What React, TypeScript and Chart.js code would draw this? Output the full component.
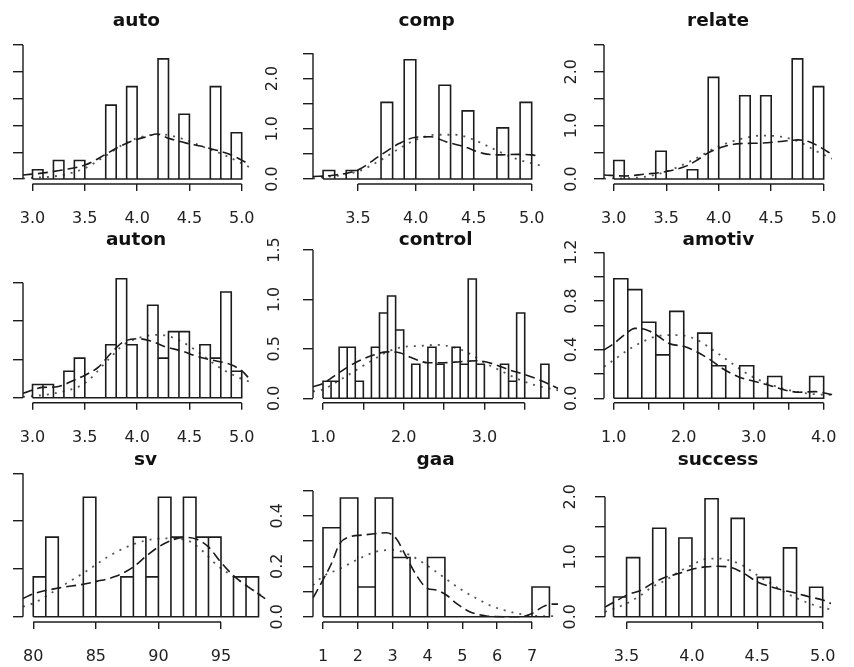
import React, { useEffect, useRef } from 'react';
import { Chart, registerables } from 'chart.js';

Chart.register(...registerables);

type Pt = [number, number];

// ---------------- data ----------------
// auto
const autoBreaks = [3.0, 3.1, 3.2, 3.3, 3.4, 3.5, 3.6, 3.7, 3.8, 3.9, 4.0, 4.1, 4.2, 4.3, 4.4, 4.5, 4.6, 4.7, 4.8, 4.9, 5.0];
const autoDensity = [0.172, 0, 0.345, 0, 0.345, 0, 0, 1.379, 0, 1.724, 0, 0, 2.241, 0, 1.207, 0, 0, 1.724, 0, 0.862];
const autoKde: Pt[] = [[2.909, 0.075], [3.09, 0.11], [3.29, 0.17], [3.5, 0.26], [3.69, 0.45], [3.8, 0.575], [3.94, 0.7], [4.09, 0.79], [4.19, 0.84], [4.3, 0.76], [4.47, 0.67], [4.62, 0.61], [4.77, 0.53], [4.9, 0.45], [5.077, 0.27]];
const autoNorm: Pt[] = [[2.909, 0.01], [3.29, 0.075], [3.5, 0.2], [3.69, 0.42], [3.89, 0.67], [4.09, 0.81], [4.24, 0.83], [4.42, 0.76], [4.62, 0.61], [4.83, 0.45], [5.077, 0.22]];

// comp
const compBreaks = [3.2, 3.3, 3.4, 3.5, 3.6, 3.7, 3.8, 3.9, 4.0, 4.1, 4.2, 4.3, 4.4, 4.5, 4.6, 4.7, 4.8, 4.9, 5.0];
const compDensity = [0.169, 0, 0.169, 0, 0, 1.525, 0, 2.373, 0, 0, 1.864, 0, 1.356, 0, 0, 1.017, 0, 1.525];
const compKde: Pt[] = [[3.113, 0.05], [3.27, 0.07], [3.5, 0.18], [3.7, 0.48], [3.86, 0.71], [4.0, 0.83], [4.13, 0.84], [4.26, 0.74], [4.42, 0.64], [4.58, 0.51], [4.71, 0.48], [4.87, 0.49], [5.0, 0.48], [5.074, 0.44]];
const compNorm: Pt[] = [[3.113, 0.01], [3.5, 0.15], [3.7, 0.38], [3.86, 0.61], [4.0, 0.78], [4.18, 0.88], [4.34, 0.88], [4.5, 0.78], [4.66, 0.61], [4.82, 0.44], [5.0, 0.31], [5.074, 0.27]];

// relate
const relateBreaks = [3.0, 3.1, 3.2, 3.3, 3.4, 3.5, 3.6, 3.7, 3.8, 3.9, 4.0, 4.1, 4.2, 4.3, 4.4, 4.5, 4.6, 4.7, 4.8, 4.9, 5.0];
const relateDensity = [0.345, 0, 0, 0, 0.517, 0, 0, 0.172, 0, 1.897, 0, 0, 1.552, 0, 1.552, 0, 0, 2.241, 0, 1.724];
const relateKde: Pt[] = [[2.907, 0.075], [3.11, 0.056], [3.29, 0.09], [3.5, 0.14], [3.7, 0.25], [3.8, 0.36], [3.91, 0.5], [4.06, 0.61], [4.2, 0.66], [4.41, 0.67], [4.59, 0.7], [4.76, 0.73], [4.88, 0.68], [5.08, 0.46]];
const relateNorm: Pt[] = [[2.907, 0.006], [3.29, 0.04], [3.5, 0.14], [3.76, 0.36], [4.0, 0.61], [4.24, 0.76], [4.41, 0.81], [4.59, 0.79], [4.76, 0.7], [4.94, 0.51], [5.08, 0.38]];

// auton
const autonBreaks = [3.0, 3.1, 3.2, 3.3, 3.4, 3.5, 3.6, 3.7, 3.8, 3.9, 4.0, 4.1, 4.2, 4.3, 4.4, 4.5, 4.6, 4.7, 4.8, 4.9, 5.0];
const autonDensity = [0.172, 0.172, 0, 0.345, 0.517, 0, 0, 0.69, 1.552, 0.69, 0, 1.207, 0.517, 0.862, 0.862, 0, 0.69, 0.517, 1.379, 0.345];
const autonKde: Pt[] = [[2.909, 0.057], [3.1, 0.135], [3.22, 0.14], [3.4, 0.23], [3.51, 0.3], [3.63, 0.4], [3.75, 0.58], [3.87, 0.73], [4.01, 0.77], [4.13, 0.74], [4.28, 0.66], [4.43, 0.61], [4.57, 0.54], [4.72, 0.49], [4.9, 0.43], [5.01, 0.34], [5.071, 0.25]];
const autonNorm: Pt[] = [[2.909, 0.01], [3.22, 0.06], [3.5, 0.19], [3.72, 0.49], [3.87, 0.69], [4.07, 0.8], [4.22, 0.82], [4.4, 0.75], [4.6, 0.58], [4.78, 0.4], [4.96, 0.27], [5.071, 0.21]];

// control
const controlBreaks = [1.0, 1.1, 1.2, 1.3, 1.4, 1.5, 1.6, 1.7, 1.8, 1.9, 2.0, 2.1, 2.2, 2.3, 2.4, 2.5, 2.6, 2.7, 2.8, 2.9, 3.0, 3.1, 3.2, 3.3, 3.4, 3.5, 3.6, 3.7, 3.8];
const controlDensity = [0.172, 0.172, 0.517, 0.517, 0.172, 0, 0.517, 0.862, 1.034, 0.69, 0, 0.345, 0, 0.517, 0.345, 0, 0.517, 0.345, 1.207, 0.345, 0, 0, 0.345, 0.172, 0.862, 0, 0, 0.345];
const controlKde: Pt[] = [[0.876, 0.117], [1.0, 0.15], [1.2, 0.26], [1.4, 0.36], [1.6, 0.43], [1.8, 0.47], [1.95, 0.46], [2.1, 0.41], [2.3, 0.36], [2.5, 0.36], [2.7, 0.37], [2.9, 0.38], [3.1, 0.35], [3.3, 0.29], [3.5, 0.24], [3.7, 0.18], [3.915, 0.1]];
const controlNorm: Pt[] = [[0.876, 0.07], [1.0, 0.09], [1.2, 0.18], [1.4, 0.28], [1.6, 0.38], [1.8, 0.47], [2.0, 0.52], [2.2, 0.53], [2.4, 0.54], [2.6, 0.52], [2.8, 0.46], [3.0, 0.36], [3.2, 0.28], [3.4, 0.2], [3.6, 0.14], [3.915, 0.08]];

// amotiv
const amotivBreaks = [1.0, 1.2, 1.4, 1.6, 1.8, 2.0, 2.2, 2.4, 2.6, 2.8, 3.0, 3.2, 3.4, 3.6, 3.8, 4.0];
const amotivDensity = [0.982, 0.893, 0.625, 0.357, 0.714, 0, 0.536, 0.268, 0, 0.268, 0, 0.179, 0, 0, 0.179];
const amotivKde: Pt[] = [[0.86, 0.397], [1.0, 0.45], [1.17, 0.53], [1.3, 0.575], [1.48, 0.56], [1.61, 0.52], [1.79, 0.45], [2.01, 0.425], [2.19, 0.38], [2.37, 0.32], [2.54, 0.25], [2.77, 0.18], [3.0, 0.14], [3.21, 0.11], [3.43, 0.07], [3.65, 0.05], [3.88, 0.055], [4.129, 0.03]];
const amotivNorm: Pt[] = [[0.86, 0.26], [1.0, 0.315], [1.21, 0.4], [1.43, 0.47], [1.66, 0.515], [1.92, 0.52], [2.19, 0.48], [2.41, 0.4], [2.68, 0.29], [2.94, 0.19], [3.21, 0.12], [3.48, 0.07], [3.83, 0.036], [4.129, 0.027]];

// sv
const svBreaks = [80, 81, 82, 83, 84, 85, 86, 87, 88, 89, 90, 91, 92, 93, 94, 95, 96, 97, 98];
const svDensity = [0.0417, 0.0833, 0, 0, 0.125, 0, 0, 0.0417, 0.0833, 0.0417, 0.125, 0.0833, 0.125, 0.0833, 0.0833, 0, 0.0417, 0.0417];
const svKde: Pt[] = [[79.18, 0.019], [80, 0.024], [82, 0.03], [84, 0.034], [85.07, 0.037], [86.53, 0.042], [88, 0.052], [89.07, 0.064], [90.13, 0.074], [91.07, 0.08], [92, 0.083], [93.07, 0.081], [94, 0.073], [94.93, 0.058], [96, 0.043], [97.2, 0.031], [98.53, 0.019]];
const svNorm: Pt[] = [[79.18, 0.0105], [80, 0.014], [82.67, 0.035], [84.4, 0.049], [85.87, 0.062], [87.47, 0.073], [89.07, 0.08], [90.67, 0.082], [92.27, 0.08], [93.6, 0.068], [94.67, 0.054], [96, 0.042], [97.2, 0.031], [98.4, 0.021]];

// gaa
const gaaBreaks = [1, 1.5, 2, 2.5, 3, 3.5, 4, 4.5, 5, 5.5, 6, 6.5, 7, 7.5];
const gaaDensity = [0.353, 0.471, 0.118, 0.471, 0.235, 0, 0.235, 0, 0, 0, 0, 0, 0.118];
const gaaKde: Pt[] = [[0.713, 0.075], [0.76, 0.086], [1.0, 0.146], [1.24, 0.21], [1.48, 0.29], [1.77, 0.317], [2.15, 0.324], [2.53, 0.33], [2.82, 0.333], [3.1, 0.31], [3.39, 0.238], [3.68, 0.165], [4.0, 0.112], [4.25, 0.106], [4.54, 0.086], [4.83, 0.053], [5.21, 0.02], [5.69, 0.003], [6.26, 0], [6.65, 0], [7.0, 0.013], [7.32, 0.04], [7.6, 0.05], [7.752, 0.05]];
const gaaNorm: Pt[] = [[0.713, 0.125], [1.0, 0.16], [1.48, 0.19], [1.96, 0.225], [2.53, 0.258], [3.0, 0.265], [3.49, 0.245], [3.97, 0.205], [4.44, 0.159], [4.92, 0.112], [5.4, 0.073], [5.88, 0.04], [6.36, 0.02], [6.84, 0.007], [7.32, 0.002], [7.752, 0.003]];

// success
const successBreaks = [3.4, 3.5, 3.6, 3.7, 3.8, 3.9, 4.0, 4.1, 4.2, 4.3, 4.4, 4.5, 4.6, 4.7, 4.8, 4.9, 5.0];
const successDensity = [0.328, 0.984, 0, 1.475, 0, 1.311, 0, 1.967, 0, 1.639, 0, 0.656, 0, 1.148, 0, 0.492];
const successKde: Pt[] = [[3.335, 0.16], [3.41, 0.25], [3.5, 0.36], [3.61, 0.44], [3.7, 0.56], [3.8, 0.66], [3.9, 0.72], [4.0, 0.79], [4.1, 0.83], [4.2, 0.84], [4.3, 0.82], [4.4, 0.72], [4.5, 0.58], [4.6, 0.5], [4.7, 0.44], [4.8, 0.39], [4.9, 0.33], [5.0, 0.28], [5.064, 0.22]];
const successNorm: Pt[] = [[3.335, 0.08], [3.41, 0.14], [3.5, 0.22], [3.61, 0.36], [3.7, 0.5], [3.8, 0.61], [3.9, 0.75], [4.0, 0.86], [4.1, 0.96], [4.2, 0.97], [4.3, 0.93], [4.4, 0.84], [4.5, 0.69], [4.6, 0.56], [4.7, 0.42], [4.8, 0.31], [4.9, 0.22], [5.0, 0.15], [5.064, 0.12]];

// tick values
const ticksX_3to5 = [3.0, 3.5, 4.0, 4.5, 5.0];
const ticksX_comp = [3.5, 4.0, 4.5, 5.0];
const ticksX_control = [1.0, 1.5, 2.0, 2.5, 3.0, 3.5];
const labelsX_control = [1.0, 2.0, 3.0];
const ticksX_amotiv = [1.0, 1.5, 2.0, 2.5, 3.0, 3.5, 4.0];
const labelsX_amotiv = [1.0, 2.0, 3.0, 4.0];
const ticksX_sv = [80, 85, 90, 95];
const ticksX_gaa = [1, 2, 3, 4, 5, 6, 7];
const ticksY_25 = [0, 0.5, 1.0, 1.5, 2.0, 2.5];
const labelsY_25 = [0, 1.0, 2.0];
const ticksY_15 = [0, 0.5, 1.0, 1.5];
const ticksY_amotiv = [0, 0.2, 0.4, 0.6, 0.8, 1.0, 1.2];
const labelsY_amotiv = [0, 0.4, 0.8, 1.2];
const ticksY_sv = [0, 0.05, 0.1, 0.15];
const ticksY_gaa = [0, 0.1, 0.2, 0.3, 0.4, 0.5];
const labelsY_gaa = [0, 0.2, 0.4];
const ticksY_success = [0, 0.5, 1.0, 1.5, 2.0];
const labelsY_success = [0, 1.0, 2.0];

// ---------------- layout / style ----------------
const INK = '#1c1c1c';
const FONT = "'DejaVu Sans', 'Liberation Sans', sans-serif";

interface Spec {
  title: string;
  breaks: number[];
  density: number[];
  kde: Pt[];
  norm: Pt[];
  xTicks: number[];
  xLabels: number[];
  yTicks: number[];
  yLabels: number[];
  xDigits: number;
  yDigits: number;
  box: [number, number, number, number]; // L, T, R, B page px of plot region
  xRange: [number, number];
  yRange: [number, number];
  canvasTop: number;
  titleY: number;
  yLabelOffset: number;
}

const ROW_T = [42, 248, 470];
const ROW_B = [184, 402.7, 622];
const ROW_CANVAS_TOP = [0, 222, 445];
const ROW_TITLE_Y = [21, 240, 460];

const specs: Spec[] = [
  { title: 'auto', breaks: autoBreaks, density: autoDensity, kde: autoKde, norm: autoNorm, xTicks: ticksX_3to5, xLabels: ticksX_3to5, yTicks: ticksY_25, yLabels: labelsY_25, xDigits: 1, yDigits: 1,
    box: [23, ROW_T[0], 268, ROW_B[0]], xRange: [2.909, 5.077], yRange: [-0.093, 2.556], canvasTop: ROW_CANVAS_TOP[0], titleY: ROW_TITLE_Y[0], yLabelOffset: 36 },
  { title: 'comp', breaks: compBreaks, density: compDensity, kde: compKde, norm: compNorm, xTicks: ticksX_comp, xLabels: ticksX_comp, yTicks: ticksY_25, yLabels: labelsY_25, xDigits: 1, yDigits: 1,
    box: [313.3, ROW_T[0], 558.5, ROW_B[0]], xRange: [3.113, 5.074], yRange: [-0.0994, 2.725], canvasTop: ROW_CANVAS_TOP[0], titleY: ROW_TITLE_Y[0], yLabelOffset: 40 },
  { title: 'relate', breaks: relateBreaks, density: relateDensity, kde: relateKde, norm: relateNorm, xTicks: ticksX_3to5, xLabels: ticksX_3to5, yTicks: ticksY_25, yLabels: labelsY_25, xDigits: 1, yDigits: 1,
    box: [603.5, ROW_T[0], 849, ROW_B[0]], xRange: [2.907, 5.08], yRange: [-0.093, 2.556], canvasTop: ROW_CANVAS_TOP[0], titleY: ROW_TITLE_Y[0], yLabelOffset: 32 },
  { title: 'auton', breaks: autonBreaks, density: autonDensity, kde: autonKde, norm: autonNorm, xTicks: ticksX_3to5, xLabels: ticksX_3to5, yTicks: ticksY_15, yLabels: ticksY_15, xDigits: 1, yDigits: 1,
    box: [23, ROW_T[1], 268, ROW_B[1]], xRange: [2.909, 5.071], yRange: [-0.065, 1.953], canvasTop: ROW_CANVAS_TOP[1], titleY: ROW_TITLE_Y[1], yLabelOffset: 36 },
  { title: 'control', breaks: controlBreaks, density: controlDensity, kde: controlKde, norm: controlNorm, xTicks: ticksX_control, xLabels: labelsX_control, yTicks: ticksY_15, yLabels: ticksY_15, xDigits: 1, yDigits: 1,
    box: [313.3, ROW_T[1], 558.5, ROW_B[1]], xRange: [0.876, 3.915], yRange: [-0.0445, 1.52], canvasTop: ROW_CANVAS_TOP[1], titleY: ROW_TITLE_Y[1], yLabelOffset: 38 },
  { title: 'amotiv', breaks: amotivBreaks, density: amotivDensity, kde: amotivKde, norm: amotivNorm, xTicks: ticksX_amotiv, xLabels: labelsX_amotiv, yTicks: ticksY_amotiv, yLabels: labelsY_amotiv, xDigits: 1, yDigits: 1,
    box: [603.5, ROW_T[1], 849, ROW_B[1]], xRange: [0.86, 4.129], yRange: [-0.036, 1.235], canvasTop: ROW_CANVAS_TOP[1], titleY: ROW_TITLE_Y[1], yLabelOffset: 32 },
  { title: 'sv', breaks: svBreaks, density: svDensity, kde: svKde, norm: svNorm, xTicks: ticksX_sv, xLabels: ticksX_sv, yTicks: ticksY_sv, yLabels: ticksY_sv, xDigits: 0, yDigits: 2,
    box: [23, ROW_T[2], 268, ROW_B[2]], xRange: [79.18, 98.756], yRange: [-0.0055, 0.1535], canvasTop: ROW_CANVAS_TOP[2], titleY: ROW_TITLE_Y[2], yLabelOffset: 36 },
  { title: 'gaa', breaks: gaaBreaks, density: gaaDensity, kde: gaaKde, norm: gaaNorm, xTicks: ticksX_gaa, xLabels: ticksX_gaa, yTicks: ticksY_gaa, yLabels: labelsY_gaa, xDigits: 0, yDigits: 1,
    box: [313.3, ROW_T[2], 558.5, ROW_B[2]], xRange: [0.713, 7.752], yRange: [-0.021, 0.582], canvasTop: ROW_CANVAS_TOP[2], titleY: ROW_TITLE_Y[2], yLabelOffset: 35 },
  { title: 'success', breaks: successBreaks, density: successDensity, kde: successKde, norm: successNorm, xTicks: ticksX_comp, xLabels: ticksX_comp, yTicks: ticksY_success, yLabels: labelsY_success, xDigits: 1, yDigits: 1,
    box: [605, ROW_T[2], 849, ROW_B[2]], xRange: [3.335, 5.064], yRange: [-0.088, 2.445], canvasTop: ROW_CANVAS_TOP[2], titleY: ROW_TITLE_Y[2], yLabelOffset: 34 },
];

function histOutline(breaks: number[], density: number[]) {
  const pts: { x: number; y: number }[] = [{ x: breaks[0], y: 0 }];
  for (let i = 0; i < density.length; i++) {
    pts.push({ x: breaks[i], y: density[i] });
    pts.push({ x: breaks[i + 1], y: density[i] });
    pts.push({ x: breaks[i + 1], y: 0 });
  }
  pts.push({ x: breaks[0], y: 0 });
  return pts;
}

const has = (arr: number[], v: number) => arr.some((a) => Math.abs(a - v) < 1e-9);

const rPlugin = {
  id: 'rStyle',
  afterDraw(chart: any, _args: any, opts: any) {
    const { ctx, chartArea, scales } = chart;
    const xs = scales.x;
    const ys = scales.y;
    ctx.save();
    ctx.strokeStyle = INK;
    ctx.lineWidth = 1.4;
    ctx.beginPath();
    const xt = xs.ticks;
    ctx.moveTo(xs.getPixelForValue(xt[0].value), chartArea.bottom);
    ctx.lineTo(xs.getPixelForValue(xt[xt.length - 1].value), chartArea.bottom);
    const yt = ys.ticks;
    ctx.moveTo(chartArea.left, ys.getPixelForValue(yt[0].value));
    ctx.lineTo(chartArea.left, ys.getPixelForValue(yt[yt.length - 1].value));
    ctx.stroke();
    ctx.fillStyle = '#111';
    ctx.font = `bold 18.5px ${FONT}`;
    ctx.textAlign = 'center';
    ctx.textBaseline = 'middle';
    ctx.fillText(opts.text, (chartArea.left + chartArea.right) / 2, opts.y);
    ctx.restore();
  },
};

function Panel({ spec }: { spec: Spec }) {
  const ref = useRef<HTMLCanvasElement>(null);
  const [L, T, R, B] = spec.box;
  const canvasLeft = Math.max(0, L - 60);
  const width = Math.round(Math.min(854, R + 5) - canvasLeft);
  const height = Math.round(B + 45 - spec.canvasTop);
  const yAxisW = L - canvasLeft;
  const padTop = T - spec.canvasTop;
  const padRight = canvasLeft + width - R;
  const xAxisH = spec.canvasTop + height - B;

  useEffect(() => {
    const tickFont = { family: FONT, size: 16 };
    const chart = new Chart(ref.current as HTMLCanvasElement, {
      type: 'line',
      data: {
        datasets: [
          {
            data: histOutline(spec.breaks, spec.density),
            borderColor: INK,
            borderWidth: 1.6,
            pointRadius: 0,
            fill: false,
            tension: 0,
          },
          {
            data: spec.kde.map(([x, y]) => ({ x, y })),
            borderColor: '#1a1a1a',
            borderWidth: 1.6,
            borderDash: [10, 5],
            pointRadius: 0,
            fill: false,
            cubicInterpolationMode: 'monotone',
          },
          {
            data: spec.norm.map(([x, y]) => ({ x, y })),
            borderColor: '#555',
            borderWidth: 1.8,
            borderDash: [2, 6],
            pointRadius: 0,
            fill: false,
            cubicInterpolationMode: 'monotone',
          },
        ],
      } as any,
      options: {
        responsive: false,
        animation: false,
        events: [],
        layout: { padding: { top: padTop, right: padRight, left: 0, bottom: 0 } },
        plugins: {
          legend: { display: false },
          tooltip: { enabled: false },
          rStyle: { text: spec.title, y: spec.titleY - spec.canvasTop },
        } as any,
        scales: {
          x: {
            type: 'linear',
            min: spec.xRange[0],
            max: spec.xRange[1],
            bounds: 'data',
            afterBuildTicks: (s: any) => { s.ticks = spec.xTicks.map((v) => ({ value: v })); },
            afterFit: (s: any) => { s.height = xAxisH; },
            grid: { drawOnChartArea: false, drawTicks: true, tickLength: 7, color: INK, lineWidth: 1.4 },
            border: { display: false },
            ticks: {
              autoSkip: false,
              maxRotation: 0,
              minRotation: 0,
              padding: 18.4,
              font: tickFont,
              color: '#222',
              callback: (v: any) => (has(spec.xLabels, Number(v)) ? Number(v).toFixed(spec.xDigits) : ''),
            },
          },
          y: {
            type: 'linear',
            min: spec.yRange[0],
            max: spec.yRange[1],
            bounds: 'data',
            afterBuildTicks: (s: any) => { s.ticks = spec.yTicks.map((v) => ({ value: v })); },
            afterFit: (s: any) => { s.width = yAxisW; },
            grid: { drawOnChartArea: false, drawTicks: true, tickLength: 10, color: INK, lineWidth: 1.4 },
            border: { display: false },
            ticks: {
              autoSkip: false,
              minRotation: 90,
              maxRotation: 90,
              crossAlign: 'center',
              padding: spec.yLabelOffset - 10 - 12.7,
              font: tickFont,
              color: '#222',
              callback: (v: any) => (has(spec.yLabels, Number(v)) ? Number(v).toFixed(spec.yDigits) : ''),
            },
          },
        },
      } as any,
      plugins: [rPlugin],
    });
    return () => chart.destroy();
  }, []);

  return (
    <canvas
      ref={ref}
      width={width}
      height={height}
      style={{ position: 'absolute', left: canvasLeft, top: spec.canvasTop, width, height }}
    />
  );
}

export default function App() {
  return (
    <div style={{ position: 'fixed', left: 0, top: 0, width: 854, height: 667, overflow: 'hidden', background: '#fff' }}>
      {specs.map((s) => (
        <Panel key={s.title} spec={s} />
      ))}
    </div>
  );
}
